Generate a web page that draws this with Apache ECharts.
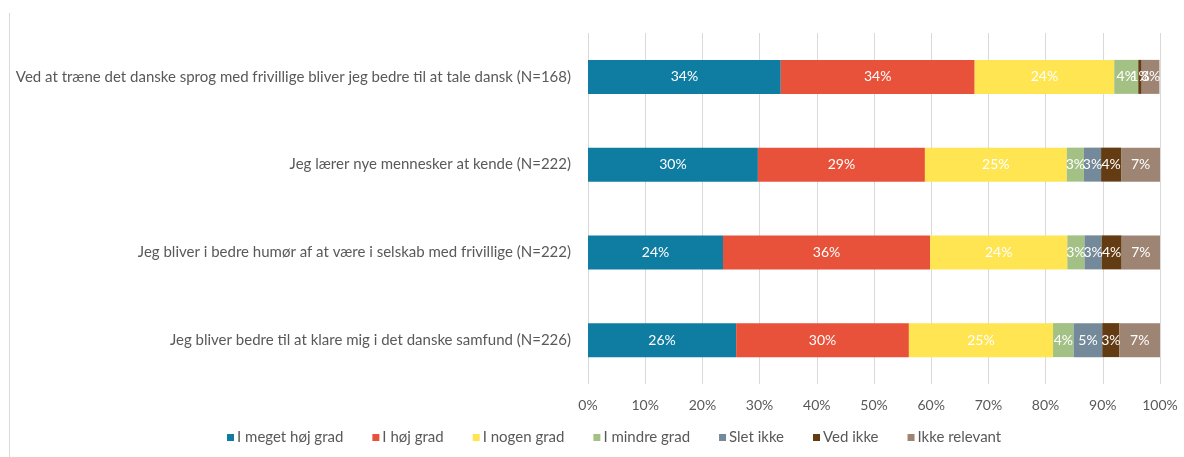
<!DOCTYPE html>
<html>
<head>
<meta charset="UTF-8">
<script src="https://cdn.jsdelivr.net/npm/echarts@6/dist/echarts.min.js"></script>
<style>
body { margin:0; padding:0; background:#fff; }
#chart { width:1184px; height:457px; }
</style>
</head>
<body><div id="chart"></div>
<script>
// spørgsmål, øverst først
var categories = [
  'Ved at træne det danske sprog med frivillige bliver jeg bedre til at tale dansk (N=168)',
  'Jeg lærer nye mennesker at kende (N=222)',
  'Jeg bliver i bedre humør af at være i selskab med frivillige (N=222)',
  'Jeg bliver bedre til at klare mig i det danske samfund (N=226)'
];
var seriesNames = ['I meget høj grad', 'I høj grad', 'I nogen grad', 'I mindre grad', 'Slet ikke', 'Ved ikke', 'Ikke relevant'];
var colors = ['#0F7CA2', '#E8523A', '#FFE552', '#A3C184', '#748A9A', '#643C14', '#9E8472'];

// andele i procent, en række pr. svarkategori
var meget = [33.7, 29.7, 23.6, 25.9];
var hoj = [33.9, 29.2, 36.2, 30.2];
var nogen = [24.4, 24.8, 24.0, 25.2];
var mindre = [4.2, 3.0, 3.0, 3.6];
var slet = [0, 3.0, 3.0, 5.0];
var vedIkke = [0.6, 3.5, 3.5, 3.0];
var ikkeRelevant = [3.1, 6.8, 6.7, 7.1];
var values = [meget, hoj, nogen, mindre, slet, vedIkke, ikkeRelevant];

var xTicks = [0, 10, 20, 30, 40, 50, 60, 70, 80, 90, 100];

var font = 'Lato, "Liberation Sans", sans-serif';

var c = echarts.init(document.getElementById('chart'));
c.setOption({
  animation: false,
  color: colors,
  textStyle: { fontFamily: font },
  graphic: [{
    type: 'line',
    shape: { x1: 9.5, y1: 13, x2: 9.5, y2: 457 },
    style: { stroke: '#d9d9d9', lineWidth: 1 }
  }],
  grid: { left: 588, right: 24, top: 33, bottom: 73 },
  legend: {
    bottom: 7,
    left: 222,
    itemWidth: 7,
    itemHeight: 7,
    itemGap: 29,
    icon: 'rect',
    textStyle: { color: '#595959', fontSize: 15, fontFamily: font, padding: [0, 0, 0, -2] },
    data: seriesNames
  },
  xAxis: {
    type: 'value',
    min: 0,
    max: 100,
    interval: 10,
    axisLine: { show: false },
    axisTick: { show: false },
    axisLabel: {
      color: '#595959', fontSize: 14, margin: 14,
      formatter: function (v) { return xTicks.indexOf(v) >= 0 ? v + '%' : ''; }
    },
    splitLine: { lineStyle: { color: '#d9d9d9', width: 1 } }
  },
  yAxis: {
    type: 'category',
    inverse: true,
    data: categories,
    axisLine: { show: false },
    axisTick: { show: false },
    axisLabel: { color: '#595959', fontSize: 15, margin: 17 }
  },
  series: seriesNames.map(function (name, i) {
    return {
      name: name,
      type: 'bar',
      stack: 'total',
      barWidth: 34,
      data: values[i],
      label: {
        show: true,
        color: '#fff',
        fontSize: 14,
        fontFamily: font,
        formatter: function (p) { return p.value > 0 ? Math.round(p.value) + '%' : ''; }
      }
    };
  })
});
</script>
</body></html>
